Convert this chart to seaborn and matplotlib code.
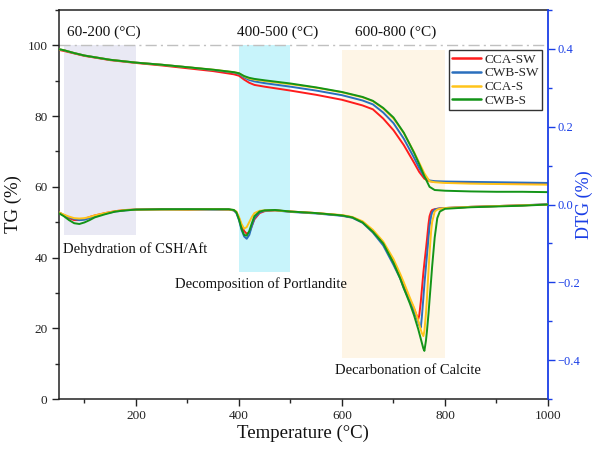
import matplotlib
matplotlib.use('Agg')
import matplotlib.pyplot as plt
import seaborn as sns
import pandas as pd
from matplotlib.ticker import MultipleLocator
from matplotlib.lines import Line2D

# ---------------- data ----------------
series = ['CCA-SW', 'CWB-SW', 'CCA-S', 'CWB-S']
colors = ['#ff1c1c', '#2a6fbd', '#ffc41a', '#139418']

tg_temp = [50, 60, 80, 100, 150, 200, 250, 300, 350, 390, 400, 410, 420, 430, 450, 500,
           550, 600, 640, 660, 680, 700, 720, 740, 750, 760, 770, 780, 800, 850, 900, 950, 1000]
tg_cca_sw = [98.7, 98.4, 97.7, 97.0, 95.8, 95.0, 94.3, 93.5, 92.7, 91.8, 91.4, 90.3, 89.4, 88.8, 88.3, 87.2,
             86.0, 84.6, 83.0, 81.9, 79.3, 76.0, 71.8, 66.8, 64.2, 62.3, 61.6, 61.4, 61.3, 61.1, 61.0, 60.9, 60.8]
tg_cwb_sw = [98.9, 98.6, 97.8, 97.1, 95.9, 95.1, 94.5, 93.8, 93.0, 92.3, 91.9, 90.9, 90.2, 89.8, 89.3, 88.3,
             87.2, 85.9, 84.4, 83.3, 81.0, 78.0, 73.6, 68.2, 65.3, 62.8, 61.8, 61.6, 61.5, 61.4, 61.3, 61.2, 61.1]
tg_cca_s = [98.9, 98.6, 97.8, 97.1, 95.9, 95.1, 94.5, 93.8, 93.1, 92.4, 92.1, 91.2, 90.6, 90.3, 89.9, 89.0,
            88.0, 86.7, 85.3, 84.2, 82.1, 79.3, 75.2, 69.8, 66.8, 63.8, 61.6, 61.3, 61.1, 60.9, 60.8, 60.7, 60.6]
tg_cwb_s = [98.9, 98.6, 97.8, 97.1, 95.9, 95.1, 94.5, 93.8, 93.1, 92.4, 92.1, 91.3, 90.8, 90.5, 90.1, 89.2,
            88.1, 86.8, 85.4, 84.3, 82.3, 79.6, 75.3, 69.6, 66.4, 63.0, 60.0, 59.1, 58.9, 58.7, 58.6, 58.6, 58.5]

dtg_temp = [50, 60, 70, 80, 90, 100, 110, 120, 140, 160, 180, 200, 250, 300, 350, 380, 390, 395,
            400, 405, 410, 415, 420, 425, 430, 440, 450, 470, 500, 550, 600, 620, 640, 660, 680,
            700, 713, 720, 732, 740, 745, 748, 750, 753, 755, 758, 760, 763, 765, 768, 770, 773,
            775, 780, 785, 790, 800, 850, 900, 950, 1000]
dtg_cca_sw = [-0.020, -0.028, -0.035, -0.040, -0.040, -0.037, -0.032, -0.028, -0.022, -0.017, -0.014,
              -0.013, -0.012, -0.013, -0.012, -0.013, -0.015, -0.020, -0.035, -0.055, -0.068, -0.075,
              -0.072, -0.055, -0.038, -0.022, -0.017, -0.015, -0.018, -0.022, -0.028, -0.033, -0.045,
              -0.070, -0.100, -0.150, -0.187, -0.210, -0.245, -0.268, -0.285, -0.295, -0.285, -0.250,
              -0.220, -0.175, -0.150, -0.115, -0.090, -0.050, -0.030, -0.018, -0.014, -0.012, -0.011,
              -0.010, -0.009, -0.006, -0.004, -0.002, 0.000]
dtg_cwb_sw = [-0.020, -0.027, -0.033, -0.037, -0.040, -0.039, -0.035, -0.030, -0.023, -0.018, -0.015,
              -0.013, -0.013, -0.012, -0.013, -0.013, -0.015, -0.022, -0.040, -0.065, -0.082, -0.088,
              -0.078, -0.055, -0.035, -0.020, -0.016, -0.015, -0.019, -0.023, -0.029, -0.034, -0.047,
              -0.072, -0.105, -0.155, -0.190, -0.215, -0.250, -0.275, -0.290, -0.302, -0.310, -0.316,
              -0.290, -0.240, -0.205, -0.160, -0.130, -0.085, -0.055, -0.030, -0.020, -0.013, -0.011,
              -0.010, -0.009, -0.006, -0.004, -0.002, 0.001]
dtg_cca_s = [-0.020, -0.026, -0.031, -0.035, -0.036, -0.035, -0.032, -0.028, -0.022, -0.017, -0.014,
             -0.013, -0.013, -0.013, -0.012, -0.013, -0.014, -0.018, -0.032, -0.050, -0.062, -0.058,
             -0.045, -0.032, -0.022, -0.016, -0.015, -0.015, -0.018, -0.022, -0.027, -0.032, -0.043,
             -0.065, -0.095, -0.140, -0.178, -0.200, -0.240, -0.265, -0.285, -0.298, -0.307, -0.322,
             -0.330, -0.338, -0.325, -0.280, -0.240, -0.170, -0.125, -0.070, -0.045, -0.018, -0.013,
             -0.011, -0.009, -0.006, -0.004, -0.002, 0.000]
dtg_cwb_s = [-0.022, -0.030, -0.040, -0.048, -0.050, -0.046, -0.040, -0.033, -0.025, -0.018, -0.015,
             -0.013, -0.012, -0.012, -0.012, -0.012, -0.014, -0.020, -0.038, -0.062, -0.078, -0.080,
             -0.068, -0.048, -0.030, -0.018, -0.015, -0.014, -0.018, -0.022, -0.028, -0.033, -0.046,
             -0.070, -0.100, -0.150, -0.190, -0.215, -0.255, -0.285, -0.307, -0.320, -0.330, -0.345,
             -0.355, -0.370, -0.376, -0.350, -0.325, -0.280, -0.245, -0.195, -0.160, -0.085, -0.035,
             -0.018, -0.011, -0.007, -0.005, -0.003, 0.000]

# annotated temperature ranges
range_labels = ['60-200 (°C)', '400-500 (°C)', '600-800 (°C)']
range_start = [60, 400, 600]
range_end = [200, 500, 800]
range_top = [100, 100, 98.6]
range_bottom = [46.3, 36.0, 11.6]
range_colors = ['#e9e9f4', '#c8f4fb', '#fef5e6']
process_labels = ['Dehydration of CSH/Aft', 'Decomposition of Portlandite', 'Decarbonation of Calcite']

# ---------------- frames ----------------
tg_df = pd.DataFrame({
    'T': tg_temp * 4,
    'val': tg_cca_sw + tg_cwb_sw + tg_cca_s + tg_cwb_s,
    'sample': sum([[s] * len(tg_temp) for s in series], []),
})
dtg_df = pd.DataFrame({
    'T': dtg_temp * 4,
    'val': dtg_cca_sw + dtg_cwb_sw + dtg_cca_s + dtg_cwb_s,
    'sample': sum([[s] * len(dtg_temp) for s in series], []),
})

# ---------------- style ----------------
sns.set_theme(style='ticks')
plt.rcParams['font.family'] = ['Liberation Serif', 'DejaVu Serif']
plt.rcParams['mathtext.fontset'] = 'stix'

blue = '#1a3ee6'
fig = plt.figure(figsize=(5.95, 4.5), dpi=100)
ax = fig.add_axes([0.0987, 0.113, 0.8223, 0.865])
ax2 = ax.twinx()

# shaded ranges
for s, e, lo, hi, c in zip(range_start, range_end, range_bottom, range_top, range_colors):
    ax.fill_between([s, e], [lo, lo], [hi, hi], color=c, linewidth=0, zorder=0)

ax.axhline(100, color='#c0c0c0', lw=1.0, ls=(0, (8, 3, 1.5, 3)), zorder=1)

palette = dict(zip(series, colors))
sns.lineplot(data=tg_df, x='T', y='val', hue='sample', palette=palette, hue_order=series,
             estimator=None, legend=False, ax=ax, linewidth=1.4, zorder=3)
sns.lineplot(data=dtg_df, x='T', y='val', hue='sample', palette=palette, hue_order=series,
             estimator=None, legend=False, ax=ax2, linewidth=1.4, zorder=3)

# axes limits and ticks
ax.set_xlim(50, 1000)
ax.set_ylim(0, 110)
ax2.set_ylim(-0.5, 0.5)
ax.set_xticks([200, 400, 600, 800, 1000])
ax.xaxis.set_minor_locator(MultipleLocator(100))
ax.set_yticks([0, 20, 40, 60, 80, 100])
ax.yaxis.set_minor_locator(MultipleLocator(10))
ax2.set_yticks([-0.4, -0.2, 0.0, 0.2, 0.4])
ax2.set_yticklabels(['\u22120.4', '\u22120.2', '0.0', '0.2', '0.4'])
ax2.yaxis.set_minor_locator(MultipleLocator(0.1))

ax.tick_params(axis='both', which='major', direction='out', length=5, width=1, labelsize=9.5,
               colors='#222222', top=False, pad=3)
ax.tick_params(axis='both', which='minor', direction='out', length=3, width=1, top=False)
ax2.tick_params(axis='y', which='major', direction='out', length=5, width=1, labelsize=9,
                colors=blue, pad=2)
ax2.tick_params(axis='y', which='minor', direction='out', length=3, width=1, colors=blue)

for sp in ['left', 'bottom', 'top']:
    ax.spines[sp].set_color('#222222')
    ax.spines[sp].set_linewidth(1.1)
ax.spines['right'].set_visible(False)
ax2.spines['right'].set_color(blue)
ax2.spines['right'].set_linewidth(1.3)
for sp in ['left', 'bottom', 'top']:
    ax2.spines[sp].set_visible(False)

ax.set_xlabel('Temperature (°C)', fontsize=13.5, labelpad=2, color='#111111')
ax.set_ylabel('TG (%)', fontsize=13.5, labelpad=4, color='#111111')
ax2.set_ylabel('DTG (%)', fontsize=13, color=blue)
ax2.yaxis.set_label_coords(1.056, 0.5)

# range text labels
range_label_x = [66, 397, 626]
for x, t in zip(range_label_x, range_labels):
    ax.text(x, 103.7, t, fontsize=11, ha='left', va='center', color='#111111')

process_x = [58, 443, 728]
process_y = [42.4, 32.6, 8.2]
process_ha = ['left', 'center', 'center']
for x, y, t, ha in zip(process_x, process_y, process_labels, process_ha):
    ax.text(x, y, t, fontsize=10.5, ha=ha, va='center', color='#111111')

# legend
handles = [Line2D([0], [0], color=c, lw=1.8) for c in colors]
leg = ax2.legend(handles, series, loc='upper right', bbox_to_anchor=(0.988, 0.897),
                 fontsize=9.5, frameon=True, fancybox=False, edgecolor='#333333',
                 handlelength=2.2, handletextpad=0.25, labelspacing=0.12,
                 borderpad=0.25, borderaxespad=0.0)
leg.get_frame().set_linewidth(1.0)
leg.get_frame().set_facecolor('white')
leg.get_frame().set_alpha(1.0)

fig.savefig('out.png', dpi=100)
